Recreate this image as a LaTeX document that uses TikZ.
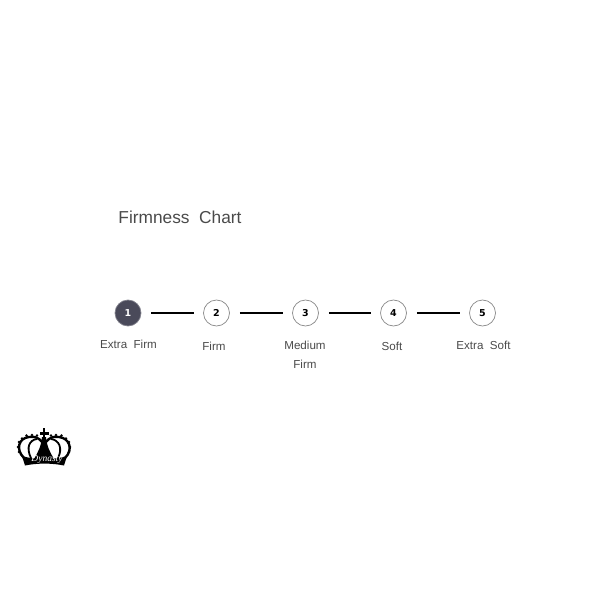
\documentclass[tikz,border=0pt]{standalone}
\usepackage{fontspec}
\setmainfont{Liberation Sans}
\newfontfamily\numfont{DejaVu Sans}
\newfontfamily\crownfont{Liberation Serif}
\definecolor{textgray}{HTML}{4A4A4A}
\definecolor{ringgray}{HTML}{8A8A8A}
\definecolor{darkstep}{HTML}{4A4A5A}
\tikzset{
    stepring/.style = {circle, draw=ringgray, fill=white, line width=0.7pt,
    minimum size=26pt, inner sep=0pt, font=\numfont\bfseries\fontsize{9.5}{11}\selectfont},
    stepline/.style = {line width=1.9pt, black, shorten >=9.5pt, shorten <=10pt},
    steplabel/.style = {text=textgray, font=\fontsize{11.6}{14}\selectfont}
}

\begin{document}
\begin{tikzpicture}[x=1pt, y=-1pt, node distance = 89pt]
        \useasboundingbox (0,0) rectangle (612,612);

        \node [text=textgray, font=\fontsize{17.3}{20}\selectfont] (title) at (180,217)
        {Firmness~~Chart};

        \node [stepring, fill=darkstep, draw=darkstep!70, text=white] (one) at (128,313) {1};
        \node [stepring, right of = one, xshift=-0.5pt] (two) {2};
        \node [stepring, right of = two] (three) {3};
        \node [stepring, right of = three, xshift=-1pt] (four) {4};
        \node [stepring, right of = four] (five) {5};

        \draw [stepline] (one)--(two);
        \draw [stepline] (two)--(three);
        \draw [stepline] (three)--(four);
        \draw [stepline, yshift=0.5pt] (four)--(five);

        \node [steplabel] (extrafirm) at (128.5,344) {Extra~~Firm};
        \node [steplabel] (firm) at (214,346) {Firm};
        \node [steplabel] (medium) at (305,345) {Medium};
        \node [steplabel, below of = medium, node distance = 19pt] (mediumfirm) {Firm};
        \node [steplabel] (soft) at (392,346) {Soft};
        \node [steplabel] (extrasoft) at (483.5,345) {Extra~~Soft};

        % crown
        \fill (42.8,428) rectangle (45.4,441);
        \fill (39.5,431.5) rectangle (48.5,434.5);
        \fill (42,437) .. controls (41,447) and (38,452) .. (34,459)
        -- (54,459) .. controls (50,452) and (47,447) .. (46,437) -- cycle;
        \draw [line width=2.4pt] (24,458) .. controls (15,449) and (19,438) .. (29,437)
        .. controls (35,436) and (39,438) .. (42,442);
        \draw [line width=2.4pt] (65,458) .. controls (74,449) and (69,438) .. (59,437)
        .. controls (53,436) and (49,438) .. (46,442);
        \draw [line width=1.8pt] (31,458) .. controls (26,448) and (29,440) .. (37,439);
        \draw [line width=1.8pt] (58,458) .. controls (63,448) and (59,440) .. (51,439);
        \fill (22,456) .. controls (35,460) and (54,460) .. (67,456)
        -- (64,465.5) .. controls (52,463) and (37,463) .. (25,465.5) -- cycle;
        \foreach \px/\py in {19/442,22/438.5,26.5/435.5,32/435,37/435.5,
        69/442,66/438.5,61.5/435.5,56/435,51/435.5,18/447,70/447,19/452,69/452}
            \fill (\px,\py) circle (1.3pt);
        \node [text=white, inner sep=0pt, font=\crownfont\itshape\fontsize{9.5}{10}\selectfont] (crownname)
        at (47,459) {Dynasty};
    \end{tikzpicture}
\end{document}
